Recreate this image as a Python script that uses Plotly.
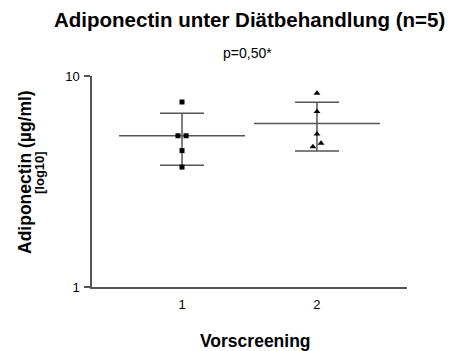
import numpy as np
import plotly.graph_objects as go

categories = [1, 2]
group1 = [7.53, 5.21, 5.21, 4.43, 3.70]
group1_x = [1.0, 0.97, 1.03, 1.0, 1.0]
group2 = [8.28, 6.78, 5.31, 4.80, 4.62]
group2_x = [2.0, 2.0, 2.0, 2.03, 1.97]
y_ticks = [1, 10]
y_ticklabels = ["1", "10"]

FONT = "Liberation Sans, Arial, sans-serif"
LINE = "#555555"

fig = go.Figure()

for cat, vals in zip(categories, [group1, group2]):
    m = float(np.mean(vals))
    sd = float(np.std(vals, ddof=1))
    fig.add_trace(go.Scatter(
        x=[cat], y=[m], mode="markers",
        marker=dict(symbol="line-ew", size=90, line=dict(color=LINE, width=1.5)),
        error_y=dict(type="data", symmetric=False, array=[sd], arrayminus=[sd],
                     color=LINE, thickness=1.5, width=22),
        showlegend=False, hoverinfo="skip"))

fig.add_trace(go.Scatter(x=group1_x, y=group1, mode="markers",
                         marker=dict(symbol="square", size=5, color="black"),
                         showlegend=False))
fig.add_trace(go.Scatter(x=group2_x, y=group2, mode="markers",
                         marker=dict(symbol="triangle-up", size=6, color="black"),
                         showlegend=False))

L, R, T, B = 92, 42, 76, 64
pw = 449 - L - R
ph = 351 - T - B


def ann(text, px, py, size, angle=0):
    return dict(text=text, x=(px - L) / pw, y=(351 - py - B) / ph,
                xref="paper", yref="paper", xanchor="center", yanchor="middle",
                showarrow=False, textangle=angle, font=dict(size=size))


fig.update_layout(
    width=449, height=351,
    margin=dict(l=L, r=R, t=T, b=B),
    paper_bgcolor="white", plot_bgcolor="white",
    font=dict(family=FONT, color="black"),
    xaxis=dict(range=[0.333, 2.667], tickvals=categories, ticktext=[str(c) for c in categories],
               showgrid=False, zeroline=False, showline=True, linecolor=LINE, linewidth=1.5,
               ticks="", tickfont=dict(size=13), ticklabelstandoff=5),
    yaxis=dict(type="log", range=[0, 1], tickvals=y_ticks, ticktext=y_ticklabels,
               showgrid=False, zeroline=False, showline=True, linecolor=LINE, linewidth=1.5,
               ticks="outside", ticklen=6, tickcolor=LINE, tickwidth=1.5,
               tickfont=dict(size=13), ticklabelstandoff=2),
    annotations=[
        ann("<b>Adiponectin unter Diätbehandlung (n=5)</b>", 249, 20, 20.5),
        ann("p=0,50*", 247, 53, 14),
        ann("<b>Adiponectin (µg/ml)</b>", 25, 172, 17.5, -90),
        ann("<b>[log10]</b>", 39, 172, 13, -90),
        ann("<b>Vorscreening</b>", 255, 341, 17.5),
    ],
)

fig.write_html("out.html")
